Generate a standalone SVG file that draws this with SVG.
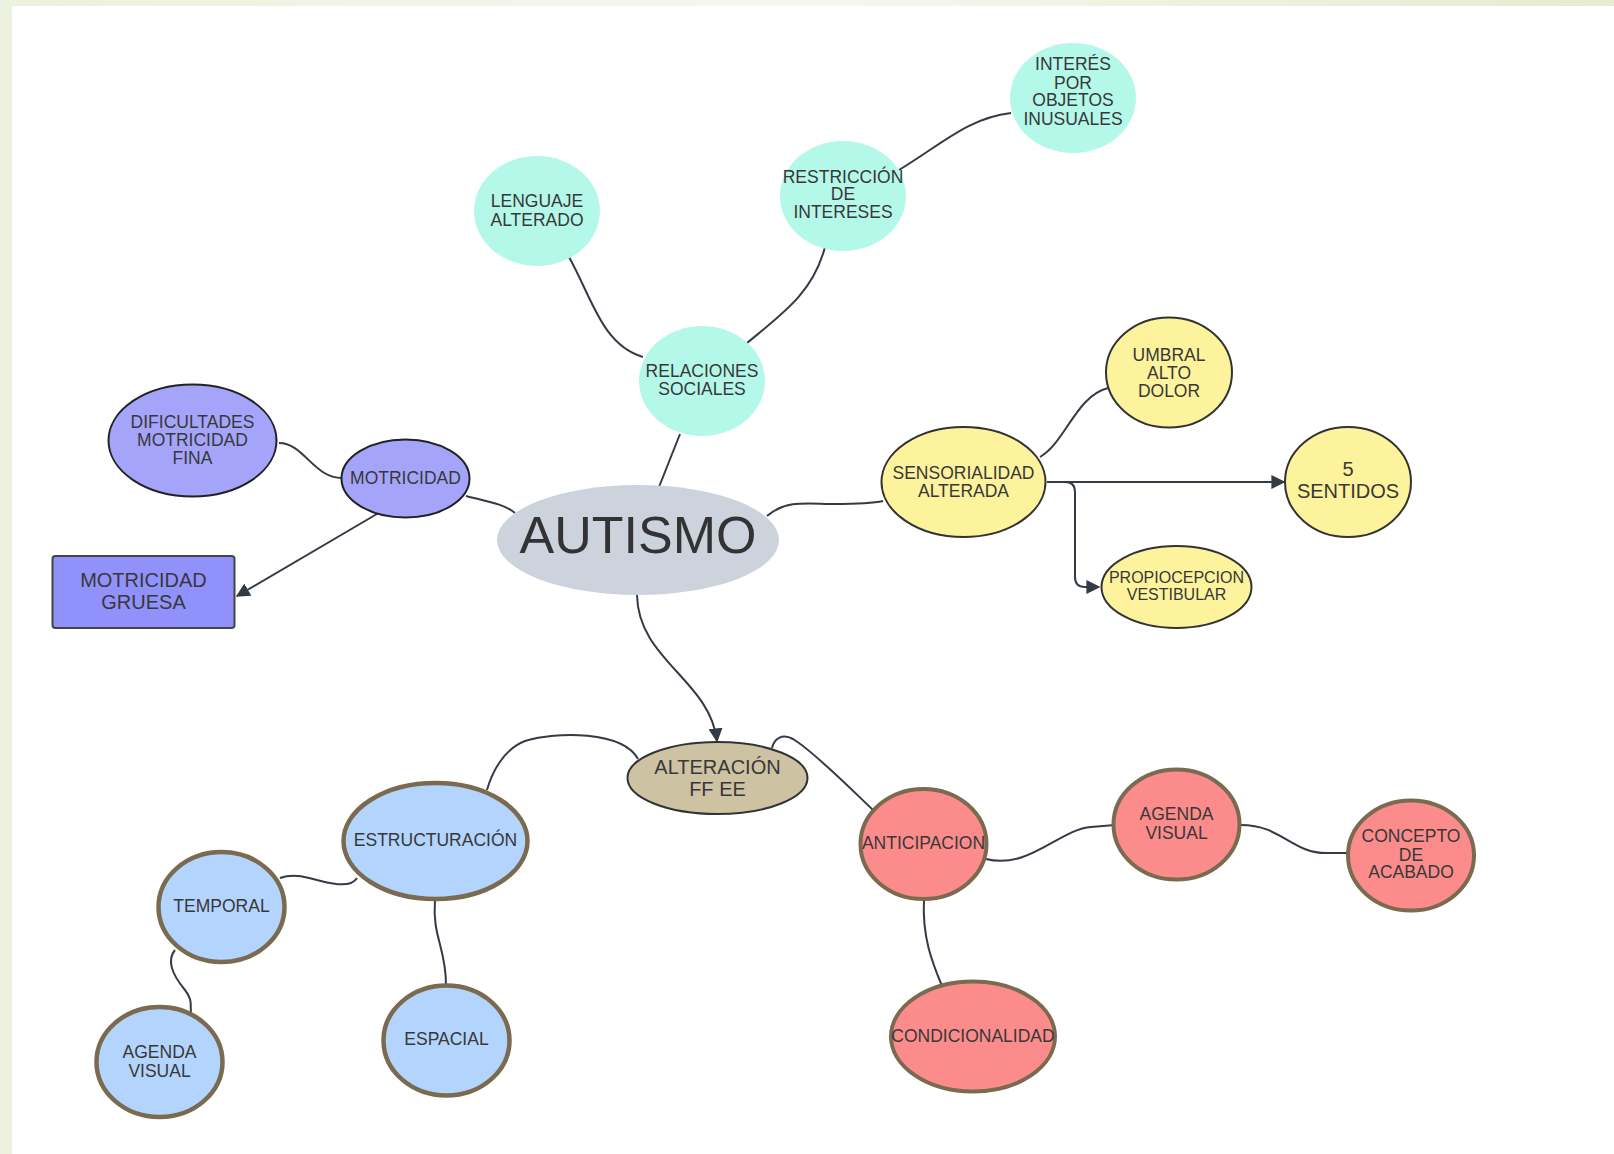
<svg xmlns="http://www.w3.org/2000/svg" width="1614" height="1154" viewBox="0 0 1614 1154">
<defs>
<linearGradient id="topg" x1="0" y1="0" x2="1" y2="0">
<stop offset="0" stop-color="#edf1df"/>
<stop offset="0.5" stop-color="#f6f7ef"/>
<stop offset="1" stop-color="#e6ebd2"/>
</linearGradient>
<marker id="arr" viewBox="0 0 10 10" refX="9" refY="5" markerWidth="7" markerHeight="7" markerUnits="userSpaceOnUse" orient="auto">
<path d="M0,0 L10,5 L0,10 z" fill="#333b45"/>
</marker>
<marker id="arrb" viewBox="0 0 10 10" refX="9" refY="5" markerWidth="14" markerHeight="14" markerUnits="userSpaceOnUse" orient="auto">
<path d="M0,0 L10,5 L0,10 z" fill="#333b45"/>
</marker>
</defs>
<style>
.t{font-family:"Liberation Sans",Arial,sans-serif;font-size:17.5px;fill:#383838;text-anchor:middle}
.mint{fill:#b4f8e9;stroke:none}
.pur{fill:#a4a4fb;stroke:#222;stroke-width:2}
.yel{fill:#fdf39d;stroke:#333;stroke-width:2}
.blu{fill:#b3d4fd;stroke:#7a6a4f;stroke-width:4.5}
.red{fill:#fc8c8c;stroke:#7a6a4f;stroke-width:4}
.c{fill:none;stroke:#333b45;stroke-width:2}
</style>
<rect x="0" y="0" width="1614" height="1154" fill="#ffffff"/>
<rect x="0" y="0" width="1614" height="6" fill="url(#topg)"/>
<rect x="0" y="0" width="12" height="1154" fill="#edf1df"/>

<g id="connectors">
<path class="c" d="M569,257 C592,298 602,345 643,357"/>
<path class="c" d="M825,247 C813,293 782,314 747,343"/>
<path class="c" d="M1011,113 C968,118 942,144 899,170"/>
<path class="c" d="M680,434 L659,487"/>
<path class="c" d="M466,496 C489,502 504,504 515,513"/>
<path class="c" d="M279,443 C304,443 314,479 343,478"/>
<path class="c" d="M382,511 L237,596" marker-end="url(#arrb)"/>
<path class="c" d="M767,516 C787,499 810,504 834,504 C855,504 870,504 883,501"/>
<path class="c" d="M1040,457 C1065,443 1076,396 1108,388"/>
<path class="c" d="M1047,482 L1284,482" marker-end="url(#arrb)"/>
<path class="c" d="M1047,482 L1065,482 Q1075,482 1075,492 L1075,577 Q1075,587 1085,587 L1099,587" marker-end="url(#arrb)"/>
<path class="c" d="M637,595 C638,660 710,680 717,741" marker-end="url(#arrb)"/>
<path class="c" d="M638,759 C623,731 556,731 525,741 C504,749 492,772 487,790"/>
<path class="c" d="M772,748 C774,739 782,733 793,739 C813,751 849,787 873,810"/>
<path class="c" d="M357,878 C350,890 324,882 309,878 C298,875 288,875 280,878"/>
<path class="c" d="M175,950 C165,962 175,978 185,990 C193,1000 190,1006 191,1012"/>
<path class="c" d="M435,900 C432,937 446,947 446,985"/>
<path class="c" d="M986,859 C1029,870 1060,829 1091,827 L1115,825"/>
<path class="c" d="M1241,825 C1282,825 1292,854 1328,853 L1347,853"/>
<path class="c" d="M924,899 C922,937 932,962 942,986"/>
</g>

<g id="autismo">
<ellipse cx="638" cy="540" rx="141" ry="55" fill="#ccd3dd"/>
<text class="t" x="638" y="553" style="font-size:52px;fill:#333">AUTISMO</text>
</g>
<g id="relaciones">
<ellipse class="mint" cx="702" cy="381" rx="63" ry="55"/>
<text class="t" x="702" y="377">RELACIONES</text>
<text class="t" x="702" y="395">SOCIALES</text>
</g>
<g id="lenguaje">
<ellipse class="mint" cx="537" cy="211" rx="63" ry="55"/>
<text class="t" x="537" y="207">LENGUAJE</text>
<text class="t" x="537" y="225.5">ALTERADO</text>
</g>
<g id="restriccion">
<ellipse class="mint" cx="843" cy="196" rx="63" ry="55"/>
<text class="t" x="843" y="182.5">RESTRICCIÓN</text>
<text class="t" x="843" y="200">DE</text>
<text class="t" x="843" y="218">INTERESES</text>
</g>
<g id="interes">
<ellipse class="mint" cx="1073" cy="98" rx="63" ry="55"/>
<text class="t" x="1073" y="70">INTERÉS</text>
<text class="t" x="1073" y="88.5">POR</text>
<text class="t" x="1073" y="106">OBJETOS</text>
<text class="t" x="1073" y="124.5">INUSUALES</text>
</g>
<g id="motricidad">
<ellipse class="pur" cx="405.5" cy="478.5" rx="64" ry="39"/>
<text class="t" x="405.5" y="484">MOTRICIDAD</text>
</g>
<g id="dificultades">
<ellipse class="pur" cx="192.5" cy="440.5" rx="84" ry="56"/>
<text class="t" x="192.5" y="428">DIFICULTADES</text>
<text class="t" x="192.5" y="446">MOTRICIDAD</text>
<text class="t" x="192.5" y="464">FINA</text>
</g>
<g id="gruesa">
<rect x="52.5" y="556" width="182" height="72" rx="3" fill="#9191fb" stroke="#444" stroke-width="2"/>
<text class="t" x="143.5" y="587" style="font-size:20px">MOTRICIDAD</text>
<text class="t" x="143.5" y="608.5" style="font-size:20px">GRUESA</text>
</g>
<g id="sensorialidad">
<ellipse class="yel" cx="963.5" cy="482" rx="82" ry="55"/>
<text class="t" x="963.5" y="479">SENSORIALIDAD</text>
<text class="t" x="963.5" y="497">ALTERADA</text>
</g>
<g id="umbral">
<ellipse class="yel" cx="1169" cy="372.5" rx="63" ry="55"/>
<text class="t" x="1169" y="360.5">UMBRAL</text>
<text class="t" x="1169" y="379">ALTO</text>
<text class="t" x="1169" y="397">DOLOR</text>
</g>
<g id="sentidos">
<ellipse class="yel" cx="1348" cy="482" rx="63" ry="55"/>
<text class="t" x="1348" y="476" style="font-size:20px">5</text>
<text class="t" x="1348" y="498" style="font-size:20px">SENTIDOS</text>
</g>
<g id="propiocepcion">
<ellipse class="yel" cx="1176.5" cy="587" rx="75" ry="41"/>
<text class="t" x="1176.5" y="583" style="font-size:16px">PROPIOCEPCION</text>
<text class="t" x="1176.5" y="600" style="font-size:16px">VESTIBULAR</text>
</g>
<g id="alteracion">
<ellipse cx="717.5" cy="778" rx="90" ry="36" fill="#cdc3a3" stroke="#333" stroke-width="2"/>
<text class="t" x="717.5" y="774" style="font-size:20px">ALTERACIÓN</text>
<text class="t" x="717.5" y="795.5" style="font-size:20px">FF EE</text>
</g>
<g id="estructuracion">
<ellipse class="blu" cx="435.5" cy="841" rx="92" ry="58"/>
<text class="t" x="435.5" y="846">ESTRUCTURACIÓN</text>
</g>
<g id="temporal">
<ellipse class="blu" cx="221.5" cy="907" rx="63" ry="55"/>
<text class="t" x="221.5" y="912">TEMPORAL</text>
</g>
<g id="agenda-visual-1">
<ellipse class="blu" cx="159.5" cy="1062" rx="63" ry="55"/>
<text class="t" x="159.5" y="1058">AGENDA</text>
<text class="t" x="159.5" y="1077">VISUAL</text>
</g>
<g id="espacial">
<ellipse class="blu" cx="446.5" cy="1040.5" rx="63" ry="55"/>
<text class="t" x="446.5" y="1045">ESPACIAL</text>
</g>
<g id="anticipacion">
<ellipse class="red" cx="923.5" cy="844" rx="63" ry="55"/>
<text class="t" x="923.5" y="849">ANTICIPACION</text>
</g>
<g id="agenda-visual-2">
<ellipse class="red" cx="1176.5" cy="824.5" rx="63" ry="55"/>
<text class="t" x="1176.5" y="820">AGENDA</text>
<text class="t" x="1176.5" y="839">VISUAL</text>
</g>
<g id="concepto">
<ellipse class="red" cx="1411" cy="855.5" rx="63" ry="55"/>
<text class="t" x="1411" y="842">CONCEPTO</text>
<text class="t" x="1411" y="860.5">DE</text>
<text class="t" x="1411" y="878">ACABADO</text>
</g>
<g id="condicionalidad">
<ellipse class="red" cx="973" cy="1036.5" rx="82" ry="55"/>
<text class="t" x="973" y="1042">CONDICIONALIDAD</text>
</g>
</svg>
